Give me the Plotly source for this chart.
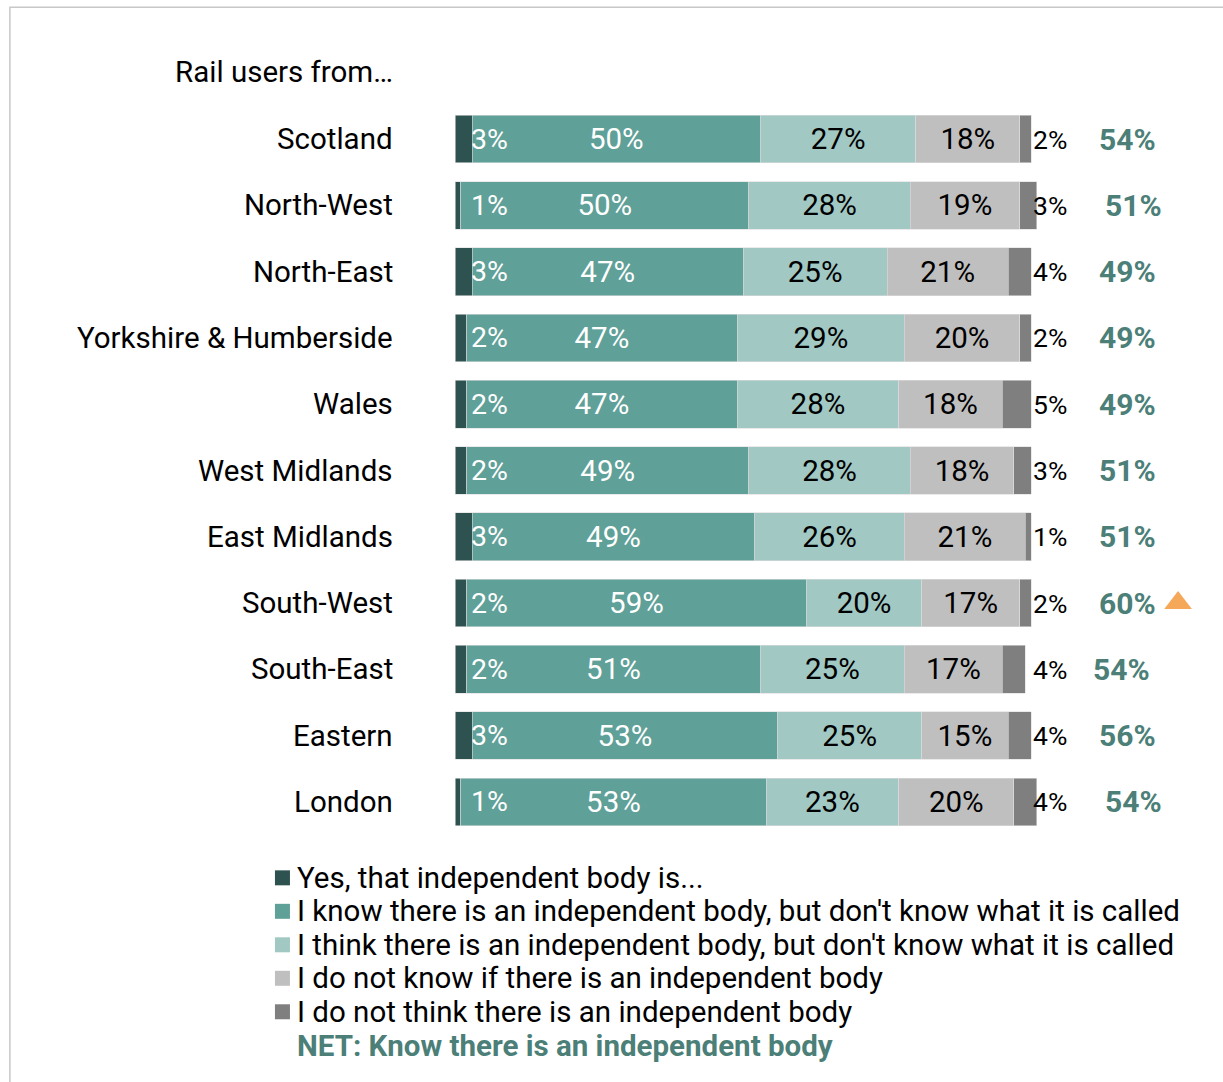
import plotly.graph_objects as go

categories = ['Scotland', 'North-West', 'North-East', 'Yorkshire & Humberside', 'Wales',
              'West Midlands', 'East Midlands', 'South-West', 'South-East', 'Eastern', 'London']
yes_named = [3, 1, 3, 2, 2, 2, 3, 2, 2, 3, 1]
know_body = [50, 50, 47, 47, 47, 49, 49, 59, 51, 53, 53]
think_body = [27, 28, 25, 29, 28, 28, 26, 20, 25, 25, 23]
dont_know = [18, 19, 21, 20, 18, 18, 21, 17, 17, 15, 20]
dont_think = [2, 3, 4, 2, 5, 3, 1, 2, 4, 4, 4]
net_know = [54, 51, 49, 49, 49, 51, 51, 60, 54, 56, 54]
sig_higher = [False, False, False, False, False, False, False, True, False, False, False]

series_names = [
    'Yes, that independent body is...',
    "I know there is an independent body, but don't know what it is called",
    "I think there is an independent body, but don't know what it is called",
    'I do not know if there is an independent body',
    'I do not think there is an independent body',
]
net_name = 'NET: Know there is an independent body'
axis_title = 'Rail users from…'

colors = ['#2e524f', '#5fa098', '#a1c8c3', '#bfbfbf', '#7f7f7f']
net_color = '#4b7f78'
tri_color = '#f5a85a'
FONT = 'Roboto, Arial, sans-serif'
FS = 29.5

W, H = 1223, 1082
L, R = 455, 19.2
T, B = 105.85, 246.85
pw = W - L - R
ph = H - T - B

def px_to_paper_x(px):
    return (px - L) / pw

def px_to_paper_y(py):
    return (H - B - py) / ph

fig = go.Figure()
series = [yes_named, know_body, think_body, dont_know, dont_think]
text_colors = [None, 'white', 'black', 'black', None]
for i, (name, vals) in enumerate(zip(series_names, series)):
    show_text = text_colors[i] is not None
    fig.add_trace(go.Bar(
        y=categories, x=vals, orientation='h', name=name,
        marker=dict(color=colors[i], line=dict(color='#dcdcdc', width=0.6)),
        text=[f'{v}%' for v in vals] if show_text else None,
        textposition='inside' if show_text else 'none',
        insidetextanchor='middle', textangle=0,
        textfont=dict(color=text_colors[i] or 'black', size=FS, family=FONT),
        hoverinfo='skip', showlegend=False,
    ))

# significance triangle
tri_y = [c for c, s in zip(categories, sig_higher) if s]
tri_x = [125.5 for s in sig_higher if s]
fig.add_trace(go.Scatter(
    x=tri_x, y=tri_y, mode='markers',
    marker=dict(symbol='triangle-up', size=24, color=tri_color),
    showlegend=False, hoverinfo='skip',
))

annotations = []
for i, cat in enumerate(categories):
    total = yes_named[i] + know_body[i] + think_body[i] + dont_know[i] + dont_think[i]
    annotations.append(dict(xref='paper', yref='y', x=px_to_paper_x(395), y=cat,
                            text=cat, showarrow=False, xanchor='right', yanchor='middle',
                            font=dict(size=FS, color='black', family=FONT)))
    annotations.append(dict(xref='x', yref='y', x=2.5, y=cat, text=f'{yes_named[i]}%',
                            showarrow=False, xanchor='left', yanchor='middle',
                            font=dict(size=28.5, color='white', family=FONT)))
    annotations.append(dict(xref='x', yref='y', x=100.0, y=cat, text=f'{dont_think[i]}%',
                            showarrow=False, xanchor='left', yanchor='middle',
                            font=dict(size=26.5, color='black', family=FONT)))
    annotations.append(dict(xref='x', yref='y', x=total + 16.7, y=cat,
                            text=f'<b>{net_know[i]}%</b>', showarrow=False,
                            xanchor='center', yanchor='middle',
                            font=dict(size=30, color=net_color, family=FONT)))

annotations.append(dict(xref='paper', yref='paper', x=px_to_paper_x(395), y=px_to_paper_y(72),
                        text=axis_title, showarrow=False, xanchor='right', yanchor='middle',
                        font=dict(size=FS, color='black', family=FONT)))

# legend (manual)
shapes = [dict(type='rect', xref='paper', yref='paper',
               x0=px_to_paper_x(10), x1=px_to_paper_x(1240),
               y0=px_to_paper_y(1100), y1=px_to_paper_y(7),
               line=dict(color='#c8c8c8', width=1.5), fillcolor='rgba(0,0,0,0)', layer='below')]
leg_y = [878, 911.5, 945, 978.5, 1012]
for name, col, cy in zip(series_names, colors, leg_y):
    shapes.append(dict(type='rect', xref='paper', yref='paper',
                       x0=px_to_paper_x(275), x1=px_to_paper_x(290),
                       y0=px_to_paper_y(cy + 7.5), y1=px_to_paper_y(cy - 7.5),
                       line=dict(width=0), fillcolor=col))
    annotations.append(dict(xref='paper', yref='paper', x=px_to_paper_x(295), y=px_to_paper_y(cy),
                            text=name, showarrow=False, xanchor='left', yanchor='middle',
                            font=dict(size=FS, color='black', family=FONT)))
annotations.append(dict(xref='paper', yref='paper', x=px_to_paper_x(295), y=px_to_paper_y(1046),
                        text=f'<b>{net_name}</b>', showarrow=False, xanchor='left', yanchor='middle',
                        font=dict(size=FS, color=net_color, family=FONT)))

fig.update_layout(
    width=W, height=H,
    margin=dict(l=L, r=R, t=T, b=B, autoexpand=False),
    barmode='stack', bargap=0.28,
    plot_bgcolor='white', paper_bgcolor='white',
    font=dict(family=FONT, size=FS, color='black'),
    xaxis=dict(range=[0, 130], visible=False, fixedrange=True),
    yaxis=dict(categoryorder='array', categoryarray=categories, range=[10.5, -0.5],
               showticklabels=False, showgrid=False, zeroline=False, fixedrange=True),
    annotations=annotations,
    shapes=shapes,
    showlegend=False,
)

fig.write_html("out.html", post_script="document.body.style.margin='0';",
               config={'displayModeBar': False})
